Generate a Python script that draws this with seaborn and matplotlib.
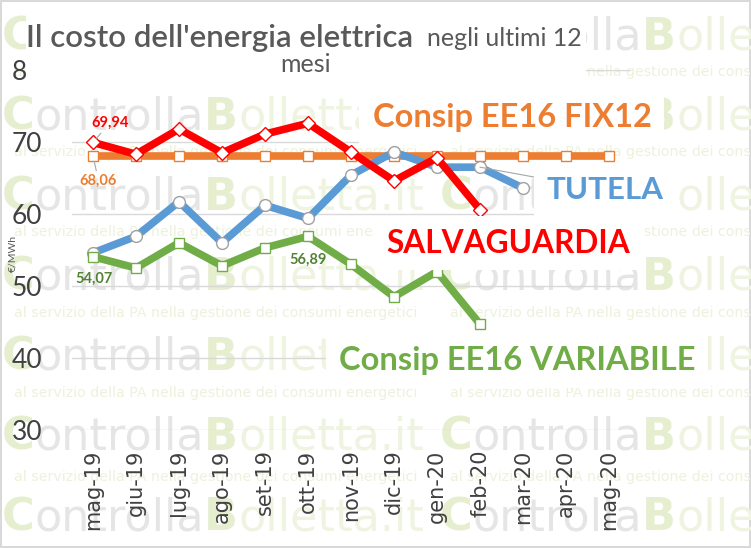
import matplotlib
matplotlib.use("Agg")
import matplotlib.pyplot as plt
from matplotlib.patches import Rectangle
from matplotlib.offsetbox import TextArea, HPacker, AnnotationBbox
import seaborn as sns

months = ['mag-19', 'giu-19', 'lug-19', 'ago-19', 'set-19', 'ott-19', 'nov-19',
          'dic-19', 'gen-20', 'feb-20', 'mar-20', 'apr-20', 'mag-20']
fix12 = [68.06, 68.06, 68.06, 68.06, 68.06, 68.06, 68.06,
         68.06, 68.06, 68.06, 68.06, 68.06, 68.06]
salvaguardia = [69.94, 68.3, 71.8, 68.5, 71.1, 72.6, 68.6, 64.6, 67.8, 60.6]
tutela = [54.6, 56.9, 61.7, 56.0, 61.2, 59.4, 65.4, 68.6, 66.5, 66.5, 63.6]
variabile = [54.07, 52.5, 56.0, 52.8, 55.3, 56.89, 53.0, 48.5, 52.0, 44.7]
y_ticks = [30, 40, 50, 60, 70, 80]

ORANGE = '#ED7D31'
RED = '#FF0000'
BLUE = '#5B9BD5'
GREEN = '#70AD47'
DARK_GREEN = '#548235'
GREY_TXT = '#595959'

W, H = 751, 548

sns.set_style('white')
plt.rcParams['font.family'] = ['Lato', 'DejaVu Sans']

fig = plt.figure(figsize=(W / 100, H / 100), dpi=100)
fig.patch.set_edgecolor('#d9d9d9')
fig.patch.set_linewidth(1.5)
ax = fig.add_axes([71.5 / W, 118 / H, 559 / W, 360 / H])
ax.patch.set_alpha(0)


# watermark in background
def watermark(px, py):
    parts = [('C', '#e6eed0', 'bold'), ('ontrolla', '#e5e5e5', 'normal'),
             ('B', '#e6eed0', 'bold'), ('olletta.it', '#eef4e0', 'normal')]
    boxes = [TextArea(s, textprops=dict(color=c, fontsize=32, fontweight=w,
                                        family='DejaVu Sans')) for s, c, w in parts]
    pack = HPacker(children=boxes, align='baseline', pad=0, sep=0)
    ab = AnnotationBbox(pack, (px, H - py), xycoords='figure pixels',
                        frameon=False, box_alignment=(0, 0.5), zorder=-5)
    fig.add_artist(ab)


for row_y in [37, 117, 197, 277, 357, 437, 518]:
    for col_x in [2, 440]:
        watermark(col_x, row_y)
for row_y in [72, 152, 232, 313, 393, 477]:
    for col_x in [14, 450]:
        fig.text(col_x / W, 1 - row_y / H,
                 'al servizio della PA nella gestione dei consumi energetici',
                 color='#ecf2dc', fontsize=10.2, family='DejaVu Sans',
                 va='center', zorder=-5)

# series
sns.lineplot(x=months, y=fix12, ax=ax, sort=False, estimator=None, color=ORANGE,
             linewidth=5.5, marker='s', markersize=7.5, markerfacecolor='white',
             markeredgecolor=ORANGE, markeredgewidth=1, zorder=3)
sns.lineplot(x=months[:len(tutela)], y=tutela, ax=ax, sort=False, estimator=None,
             color=BLUE, linewidth=5.5, marker='o', markersize=8.5,
             markerfacecolor='white', markeredgecolor='#a0a0a0',
             markeredgewidth=1, zorder=4)
sns.lineplot(x=months[:len(salvaguardia)], y=salvaguardia, ax=ax, sort=False,
             estimator=None, color=RED, linewidth=5.5, marker='D', markersize=7.5,
             markerfacecolor='white', markeredgecolor=RED, markeredgewidth=1,
             zorder=5)
sns.lineplot(x=months[:len(variabile)], y=variabile, ax=ax, sort=False,
             estimator=None, color=GREEN, linewidth=5.5, marker='s', markersize=7.5,
             markerfacecolor='white', markeredgecolor=GREEN, markeredgewidth=1,
             zorder=4)

ax.set_xlim(-0.5, len(months) - 0.5)
ax.set_ylim(y_ticks[0], y_ticks[-1])
ax.set_yticks(y_ticks)
ax.set_xticks(range(len(months)))
ax.set_xticklabels(months, rotation=90, fontsize=15, family='DejaVu Sans',
                   color='#404040')
ax.tick_params(axis='x', length=0, pad=14)
ax.tick_params(axis='y', length=0, pad=21, labelsize=19, labelcolor='#404040')
ax.yaxis.grid(True, color='#d9d9d9', linewidth=1)
ax.xaxis.grid(False)
sns.despine(ax=ax, left=True, bottom=True)
ax.set_xlabel('')
ax.set_ylabel('€/MWh', fontsize=7.5, color=GREY_TXT)
ax.yaxis.set_label_coords(-0.096, 0.49)


def num(v):
    return f'{v:.2f}'.replace('.', ',')


leader = dict(arrowstyle='-', color='#a6a6a6', lw=0.8, shrinkA=0, shrinkB=4)
ax.annotate(num(salvaguardia[0]), xy=(0, salvaguardia[0]), xytext=(12, 14),
            textcoords='offset points', ha='center', va='center', fontsize=10.5,
            fontweight='bold', color=RED, arrowprops=leader, zorder=6)
ax.annotate(num(fix12[0]), xy=(0, fix12[0]), xytext=(4, -18),
            textcoords='offset points', ha='center', va='center', fontsize=10.5,
            fontweight='bold', color=ORANGE, arrowprops=leader, zorder=6)
ax.annotate(num(variabile[0]), xy=(0, variabile[0]), xytext=(1, -16),
            textcoords='offset points', ha='center', va='center', fontsize=10.5,
            fontweight='bold', color=DARK_GREEN, zorder=6)
ax.annotate(num(variabile[5]), xy=(5, variabile[5]), xytext=(0, -17),
            textcoords='offset points', ha='center', va='center', fontsize=10.5,
            fontweight='bold', color=DARK_GREEN, zorder=6)

# series names
box = dict(boxstyle='square,pad=0.4', facecolor='white', edgecolor='none')
ax.text(0.788, 0.869, 'Consip EE16 FIX12', transform=ax.transAxes, ha='center',
        va='center', fontsize=23.5, fontweight='bold', color=ORANGE, bbox=box,
        clip_on=False, zorder=7)
ax.annotate('TUTELA', xy=(9, tutela[9]), xytext=(0.954, 0.667),
            textcoords='axes fraction', ha='center', va='center', fontsize=22.5,
            fontweight='bold', color=BLUE, bbox=box, annotation_clip=False,
            arrowprops=dict(arrowstyle='-', color='#a6a6a6', lw=0.8,
                            shrinkA=0, shrinkB=0), zorder=7)
ax.text(0.781, 0.519, 'SALVAGUARDIA', transform=ax.transAxes, ha='center',
        va='center', fontsize=22.8, fontweight='bold', color=RED, bbox=box,
        clip_on=False, zorder=7)
ax.text(0.797, 0.194, 'Consip EE16 VARIABILE', transform=ax.transAxes,
        ha='center', va='center', fontsize=23.5, fontweight='bold', color=GREEN,
        bbox=box, clip_on=False, zorder=7)

# title on white box
fig.add_artist(Rectangle((26 / W, 1 - 88 / H), 560 / W, 82 / H,
                         transform=fig.transFigure, facecolor='white',
                         edgecolor='none', zorder=2))
fig.text(26 / W, 1 - 38 / H, "Il costo dell'energia elettrica", fontsize=22.5,
         fontweight='semibold', color=GREY_TXT, va='center', ha='left', zorder=3)
fig.text(582 / W, 1 - 38 / H, 'negli ultimi 12', fontsize=18, color=GREY_TXT,
         va='center', ha='right', zorder=3)
fig.text(305 / W, 1 - 65 / H, 'mesi', fontsize=18, color=GREY_TXT,
         va='center', ha='center', zorder=3)

fig.savefig('out.png', dpi=100)
